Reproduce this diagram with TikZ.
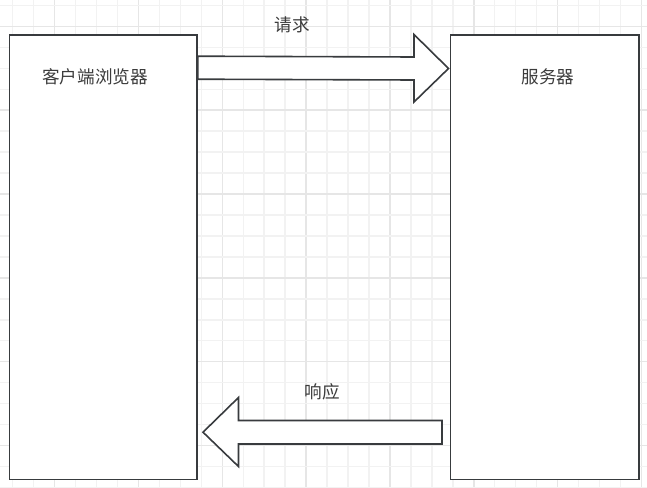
\documentclass[tikz,border=0pt]{standalone}
\usepackage{fontspec}
\usetikzlibrary{calc}
\newfontfamily\cjk{Noto Sans CJK SC}
\definecolor{minorgrid}{HTML}{F2F2F2}
\definecolor{majorgrid}{HTML}{E6E6E6}
\definecolor{edge}{HTML}{383B3E}
\definecolor{txt}{HTML}{3C3C3C}
\tikzset{
  minorline/.style={draw=minorgrid, line width=1.3pt},
  majorline/.style={draw=majorgrid, line width=1.4pt},
  panel/.style={draw=edge, fill=white, line width=1.6pt, rectangle, inner sep=0pt},
  blockarrow/.style={draw=edge, fill=white, line width=1.6pt, line join=miter},
  lbl/.style={font=\cjk\fontsize{17.6}{20}\selectfont, text=txt, inner sep=0pt}
}
\begin{document}
\begin{tikzpicture}[x=1pt,y=-1pt]
\useasboundingbox (0,0) rectangle (647,487);
\fill[white] (0,0) rectangle (647,487);
% grid
\foreach \i in {0,...,30} {
  \pgfmathsetmacro{\gx}{12.5+20.97*\i}
  \pgfmathtruncatemacro{\m}{mod(\i+2,4)}
  \ifnum\m=0
    \draw[majorline] (\gx,0) -- (\gx,487);
  \else
    \draw[minorline] (\gx,0) -- (\gx,487);
  \fi
}
\foreach \j in {0,...,23} {
  \pgfmathsetmacro{\gy}{5.3+20.97*\j}
  \pgfmathtruncatemacro{\m}{mod(\j+3,4)}
  \ifnum\m=0
    \draw[majorline] (0,\gy) -- (647,\gy);
  \else
    \draw[minorline] (0,\gy) -- (647,\gy);
  \fi
}
% panels
\node[panel, minimum width=187.5pt, minimum height=444.5pt] (client) at (103.25,257.25) {};
\node[panel, minimum width=188.5pt, minimum height=444.5pt] (server) at (544.75,257.25) {};
\node[lbl] (clientlabel) at (95,76.5) {客户端浏览器};
\node[lbl] (serverlabel) at (548,76.5) {服务器};
% request arrow
\coordinate (reqtail) at (client.north east);
\draw[blockarrow] ($(reqtail)+(0,22)$) -- (414,57) -- (414,34.5) -- (448.5,68.5) -- (414,102) -- (414,80) -- ($(reqtail)+(0,45)$) -- cycle;
\node[lbl] (reqlabel) at (292.5,24.5) {请求};
% response arrow
\draw[blockarrow] (442,420.5) -- (238.5,420.5) -- (238.5,397.5) -- (203,432.2) -- (238.5,466.5) -- (238.5,444) -- (442,444) -- cycle;
\node[lbl] (resplabel) at (322.5,391.5) {响应};
\end{tikzpicture}
\end{document}
